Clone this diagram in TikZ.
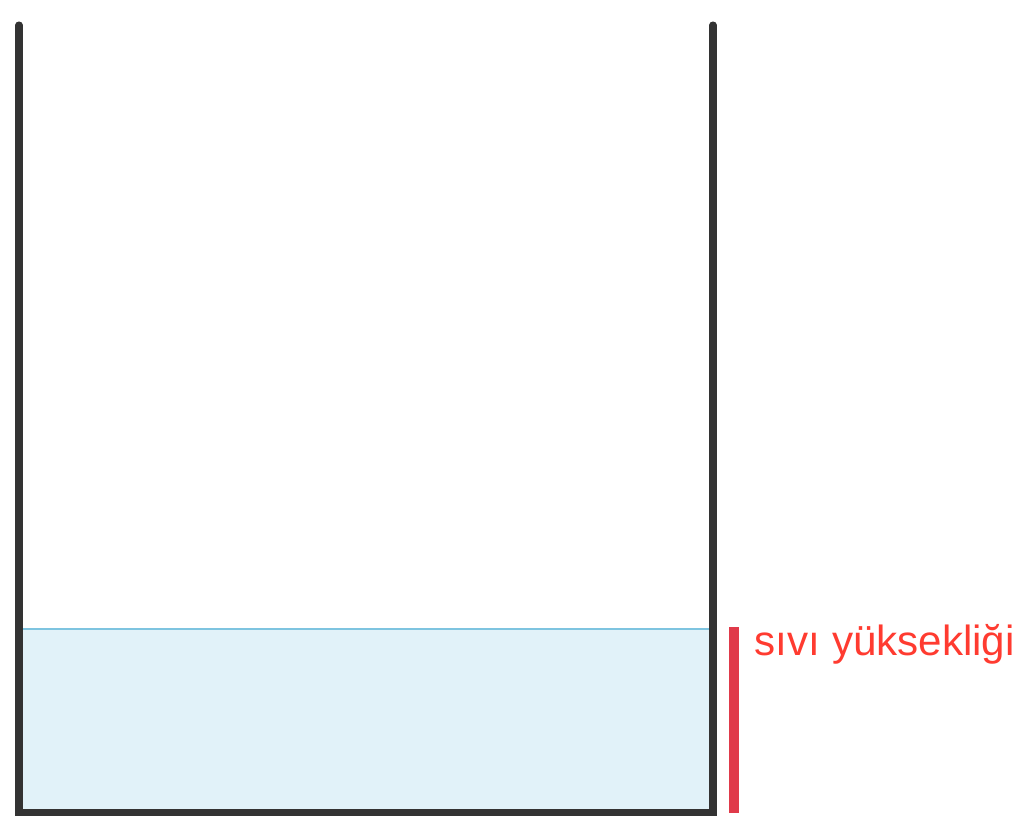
\documentclass[tikz,border=0pt]{standalone}
\usepackage{fontspec}
\setmainfont{Liberation Sans}
\usepackage{tikz}
\usetikzlibrary{positioning, calc}

\definecolor{wallgray}{HTML}{333333}
\definecolor{waterfill}{HTML}{E1F2F9}
\definecolor{waterline}{HTML}{7EC4E0}
\definecolor{barred}{HTML}{E03A4A}
\definecolor{labelred}{HTML}{FF3B30}

\begin{document}
\begin{tikzpicture}[x=0.02cm, y=-0.02cm, thick]
          \useasboundingbox (0,0) rectangle (1034,836);
          \coordinate (TL) at (19,25);
          \coordinate (TR) at (713,25);
          \coordinate (BL) at (19,812);
          \coordinate (BR) at (713,812);
          \coordinate (SL) at (19,629);
          \coordinate (SR) at (713,629);
          \fill[waterfill] (SL) rectangle (BR);
          \draw[waterline, line width=1.2pt] (SL) -- (SR);
          \draw[wallgray, line width=4pt, line cap=round, line join=miter] (TL) -- (BL) -- (BR) -- (TR);
          \coordinate (HT) at (734,627);
          \coordinate (HB) at (734,813);
          \draw[barred, line width=5.7pt] (HT) -- (HB);
          \node (H) [anchor=north west, inner sep=0pt, text=labelred, font=\fontsize{24}{28}\selectfont] at (754,624) {sıvı yüksekliği};
      \end{tikzpicture}
\end{document}
